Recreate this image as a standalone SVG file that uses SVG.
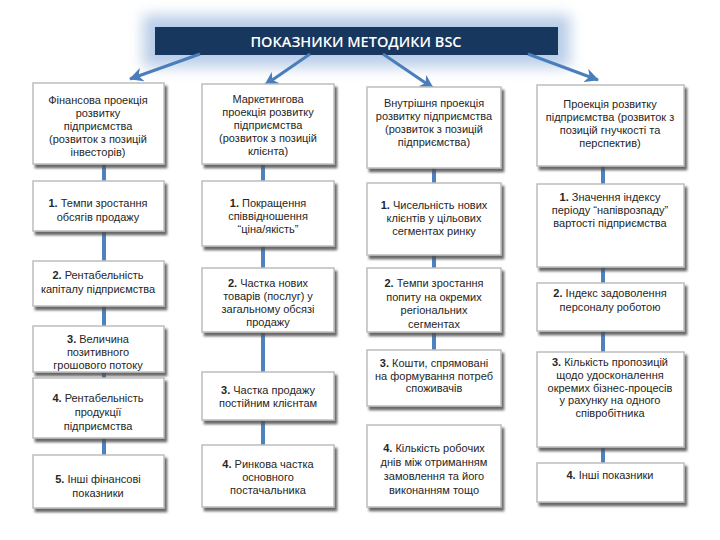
<svg xmlns="http://www.w3.org/2000/svg" width="720" height="540" viewBox="0 0 720 540">
<defs>
<style>
.box{fill:#ffffff;stroke:#bdbdbd;stroke-width:1.5;filter:url(#sh)}
.t{font-family:"Liberation Sans",Arial,sans-serif;font-size:11px;fill:#262626;text-anchor:middle}
.b{font-weight:bold}
.vl{stroke:#4f81bd;stroke-width:4;fill:none}
.ar{stroke:#4a7ebb;stroke-width:3;fill:none;marker-end:url(#ah)}
</style>
<filter id="sh" x="-10%" y="-10%" width="125%" height="130%">
<feDropShadow dx="2.5" dy="3.5" stdDeviation="1.2" flood-color="#4d4d4d" flood-opacity="0.85"/>
</filter>
<filter id="glow" x="-20%" y="-80%" width="140%" height="260%">
<feGaussianBlur stdDeviation="7"/>
</filter>
<marker id="ah" markerUnits="userSpaceOnUse" markerWidth="16" markerHeight="14" refX="13" refY="7" orient="auto">
<path d="M0,0 L14,7 L0,14 L4,7 Z" fill="#4a7ebb"/>
</marker>
</defs>
<rect width="720" height="540" fill="#ffffff"/>

<g id="header">
<rect x="143" y="15" width="427" height="52" fill="#b9cde8" filter="url(#glow)"/>
<rect x="155" y="27" width="403" height="28" fill="#17375e"/>
<text x="356" y="47" font-family="'Open Sans','Liberation Sans',Arial,sans-serif" font-size="14.5" font-weight="600" fill="#ffffff" text-anchor="middle">ПОКАЗНИКИ МЕТОДИКИ BSC</text>
</g>

<g id="connectors">
<line class="ar" x1="200" y1="54" x2="130" y2="79"/>
<line class="ar" x1="310" y1="54" x2="265" y2="85"/>
<line class="ar" x1="383" y1="54" x2="433" y2="88"/>
<line class="ar" x1="528" y1="54" x2="598" y2="80"/>
<line class="vl" x1="104" y1="160" x2="104" y2="456"/>
<line class="vl" x1="263" y1="160" x2="263" y2="448"/>
<line class="vl" x1="434" y1="165" x2="434" y2="352"/>
<line class="vl" x1="603" y1="165" x2="603" y2="465"/>
</g>

<!-- Column 1 -->
<g id="c1n0">
<rect class="box" x="33" y="83" width="131" height="81"/>
<text class="t" x="98" y="104"><tspan x="98">Фінансова проекція</tspan><tspan x="98" dy="13">розвитку</tspan><tspan x="98" dy="13">підприємства</tspan><tspan x="98" dy="13">(розвиток з позицій</tspan><tspan x="98" dy="13">інвесторів)</tspan></text>
</g>
<g id="c1n1">
<rect class="box" x="33" y="181" width="131" height="50"/>
<text class="t" x="98" y="207"><tspan x="98"><tspan class="b">1.</tspan> Темпи зростання</tspan><tspan x="98" dy="14">обсягів продажу</tspan></text>
</g>
<g id="c1n2">
<rect class="box" x="33" y="261" width="131" height="45"/>
<text class="t" x="98" y="279"><tspan x="98"><tspan class="b">2.</tspan> Рентабельність</tspan><tspan x="98" dy="13.5">капіталу підприємства</tspan></text>
</g>
<g id="c1n3">
<rect class="box" x="33" y="326" width="131" height="46"/>
<text class="t" x="98" y="343"><tspan x="98"><tspan class="b">3.</tspan> Величина</tspan><tspan x="98" dy="13">позитивного</tspan><tspan x="98" dy="13">грошового потоку</tspan></text>
</g>
<g id="c1n4">
<rect class="box" x="33" y="378" width="131" height="60"/>
<text class="t" x="98" y="402"><tspan x="98"><tspan class="b">4.</tspan> Рентабельність</tspan><tspan x="98" dy="14">продукції</tspan><tspan x="98" dy="14">підприємства</tspan></text>
</g>
<g id="c1n5">
<rect class="box" x="33" y="455" width="131" height="53"/>
<text class="t" x="98" y="483"><tspan x="98"><tspan class="b">5.</tspan> Інші фінансові</tspan><tspan x="98" dy="14">показники</tspan></text>
</g>

<!-- Column 2 -->
<g id="c2n0">
<rect class="box" x="202" y="84" width="132" height="80"/>
<text class="t" x="268" y="103"><tspan x="268">Маркетингова</tspan><tspan x="268" dy="13">проекція розвитку</tspan><tspan x="268" dy="13">підприємства</tspan><tspan x="268" dy="13">(розвиток з позицій</tspan><tspan x="268" dy="13">клієнта)</tspan></text>
</g>
<g id="c2n1">
<rect class="box" x="202" y="181" width="132" height="65"/>
<text class="t" x="268" y="207"><tspan x="268"><tspan class="b">1.</tspan> Покращення</tspan><tspan x="268" dy="13">співвідношення</tspan><tspan x="268" dy="13">“ціна/якість”</tspan></text>
</g>
<g id="c2n2">
<rect class="box" x="202" y="268" width="132" height="64"/>
<text class="t" x="268" y="287"><tspan x="268"><tspan class="b">2.</tspan> Частка нових</tspan><tspan x="268" dy="13">товарів (послуг) у</tspan><tspan x="268" dy="13">загальному обсязі</tspan><tspan x="268" dy="13">продажу</tspan></text>
</g>
<g id="c2n3">
<rect class="box" x="202" y="372" width="132" height="48"/>
<text class="t" x="268" y="394"><tspan x="268"><tspan class="b">3.</tspan> Частка продажу</tspan><tspan x="268" dy="13">постійним клієнтам</tspan></text>
</g>
<g id="c2n4">
<rect class="box" x="202" y="445" width="132" height="62"/>
<text class="t" x="268" y="468"><tspan x="268"><tspan class="b">4.</tspan> Ринкова частка</tspan><tspan x="268" dy="13">основного</tspan><tspan x="268" dy="13">постачальника</tspan></text>
</g>

<!-- Column 3 -->
<g id="c3n0">
<rect class="box" x="367" y="87" width="134" height="81"/>
<text class="t" x="434" y="107"><tspan x="434">Внутрішня проекція</tspan><tspan x="434" dy="13">розвитку підприємства</tspan><tspan x="434" dy="13">(розвиток з позицій</tspan><tspan x="434" dy="13">підприємства)</tspan></text>
</g>
<g id="c3n1">
<rect class="box" x="367" y="183" width="134" height="72"/>
<text class="t" x="434" y="209"><tspan x="434"><tspan class="b">1.</tspan> Чисельність нових</tspan><tspan x="434" dy="13">клієнтів у цільових</tspan><tspan x="434" dy="13">сегментах ринку</tspan></text>
</g>
<g id="c3n2">
<rect class="box" x="367" y="268" width="134" height="64"/>
<text class="t" x="434" y="287"><tspan x="434"><tspan class="b">2.</tspan> Темпи зростання</tspan><tspan x="434" dy="13.5">попиту на окремих</tspan><tspan x="434" dy="13.5">регіональних</tspan><tspan x="434" dy="13.5">сегментах</tspan></text>
</g>
<g id="c3n3">
<rect class="box" x="367" y="350" width="134" height="56"/>
<text class="t" x="434" y="367"><tspan x="434"><tspan class="b">3.</tspan> Кошти, спрямовані</tspan><tspan x="434" dy="12.5">на формування потреб</tspan><tspan x="434" dy="12.5">споживачів</tspan></text>
</g>
<g id="c3n4">
<rect class="box" x="367" y="425" width="134" height="82"/>
<text class="t" x="434" y="452"><tspan x="434"><tspan class="b">4.</tspan> Кількість робочих</tspan><tspan x="434" dy="14">днів між отриманням</tspan><tspan x="434" dy="14">замовлення та його</tspan><tspan x="434" dy="14">виконанням тощо</tspan></text>
</g>

<!-- Column 4 -->
<g id="c4n0">
<rect class="box" x="537" y="85" width="147" height="81"/>
<text class="t" x="610" y="108"><tspan x="610">Проекція розвитку</tspan><tspan x="610" dy="13">підприємства (розвиток з</tspan><tspan x="610" dy="13">позицій гнучкості та</tspan><tspan x="610" dy="13">перспектив)</tspan></text>
</g>
<g id="c4n1">
<rect class="box" x="537" y="184" width="147" height="83"/>
<text class="t" x="610" y="201"><tspan x="610"><tspan class="b">1.</tspan> Значення індексу</tspan><tspan x="610" dy="13">періоду “напіврозпаду”</tspan><tspan x="610" dy="13">вартості підприємства</tspan></text>
</g>
<g id="c4n2">
<rect class="box" x="537" y="283" width="147" height="48"/>
<text class="t" x="610" y="297"><tspan x="610"><tspan class="b">2.</tspan> Індекс задоволення</tspan><tspan x="610" dy="13.5">персоналу роботою</tspan></text>
</g>
<g id="c4n3">
<rect class="box" x="537" y="352" width="147" height="95"/>
<text class="t" x="610" y="366"><tspan x="610"><tspan class="b">3.</tspan> Кількість пропозицій</tspan><tspan x="610" dy="12.8">щодо удосконалення</tspan><tspan x="610" dy="12.8">окремих бізнес-процесів</tspan><tspan x="610" dy="12.8">у рахунку на одного</tspan><tspan x="610" dy="12.8">співробітника</tspan></text>
</g>
<g id="c4n4">
<rect class="box" x="537" y="463" width="147" height="39"/>
<text class="t" x="610" y="479"><tspan x="610"><tspan class="b">4.</tspan> Інші показники</tspan></text>
</g>
</svg>
